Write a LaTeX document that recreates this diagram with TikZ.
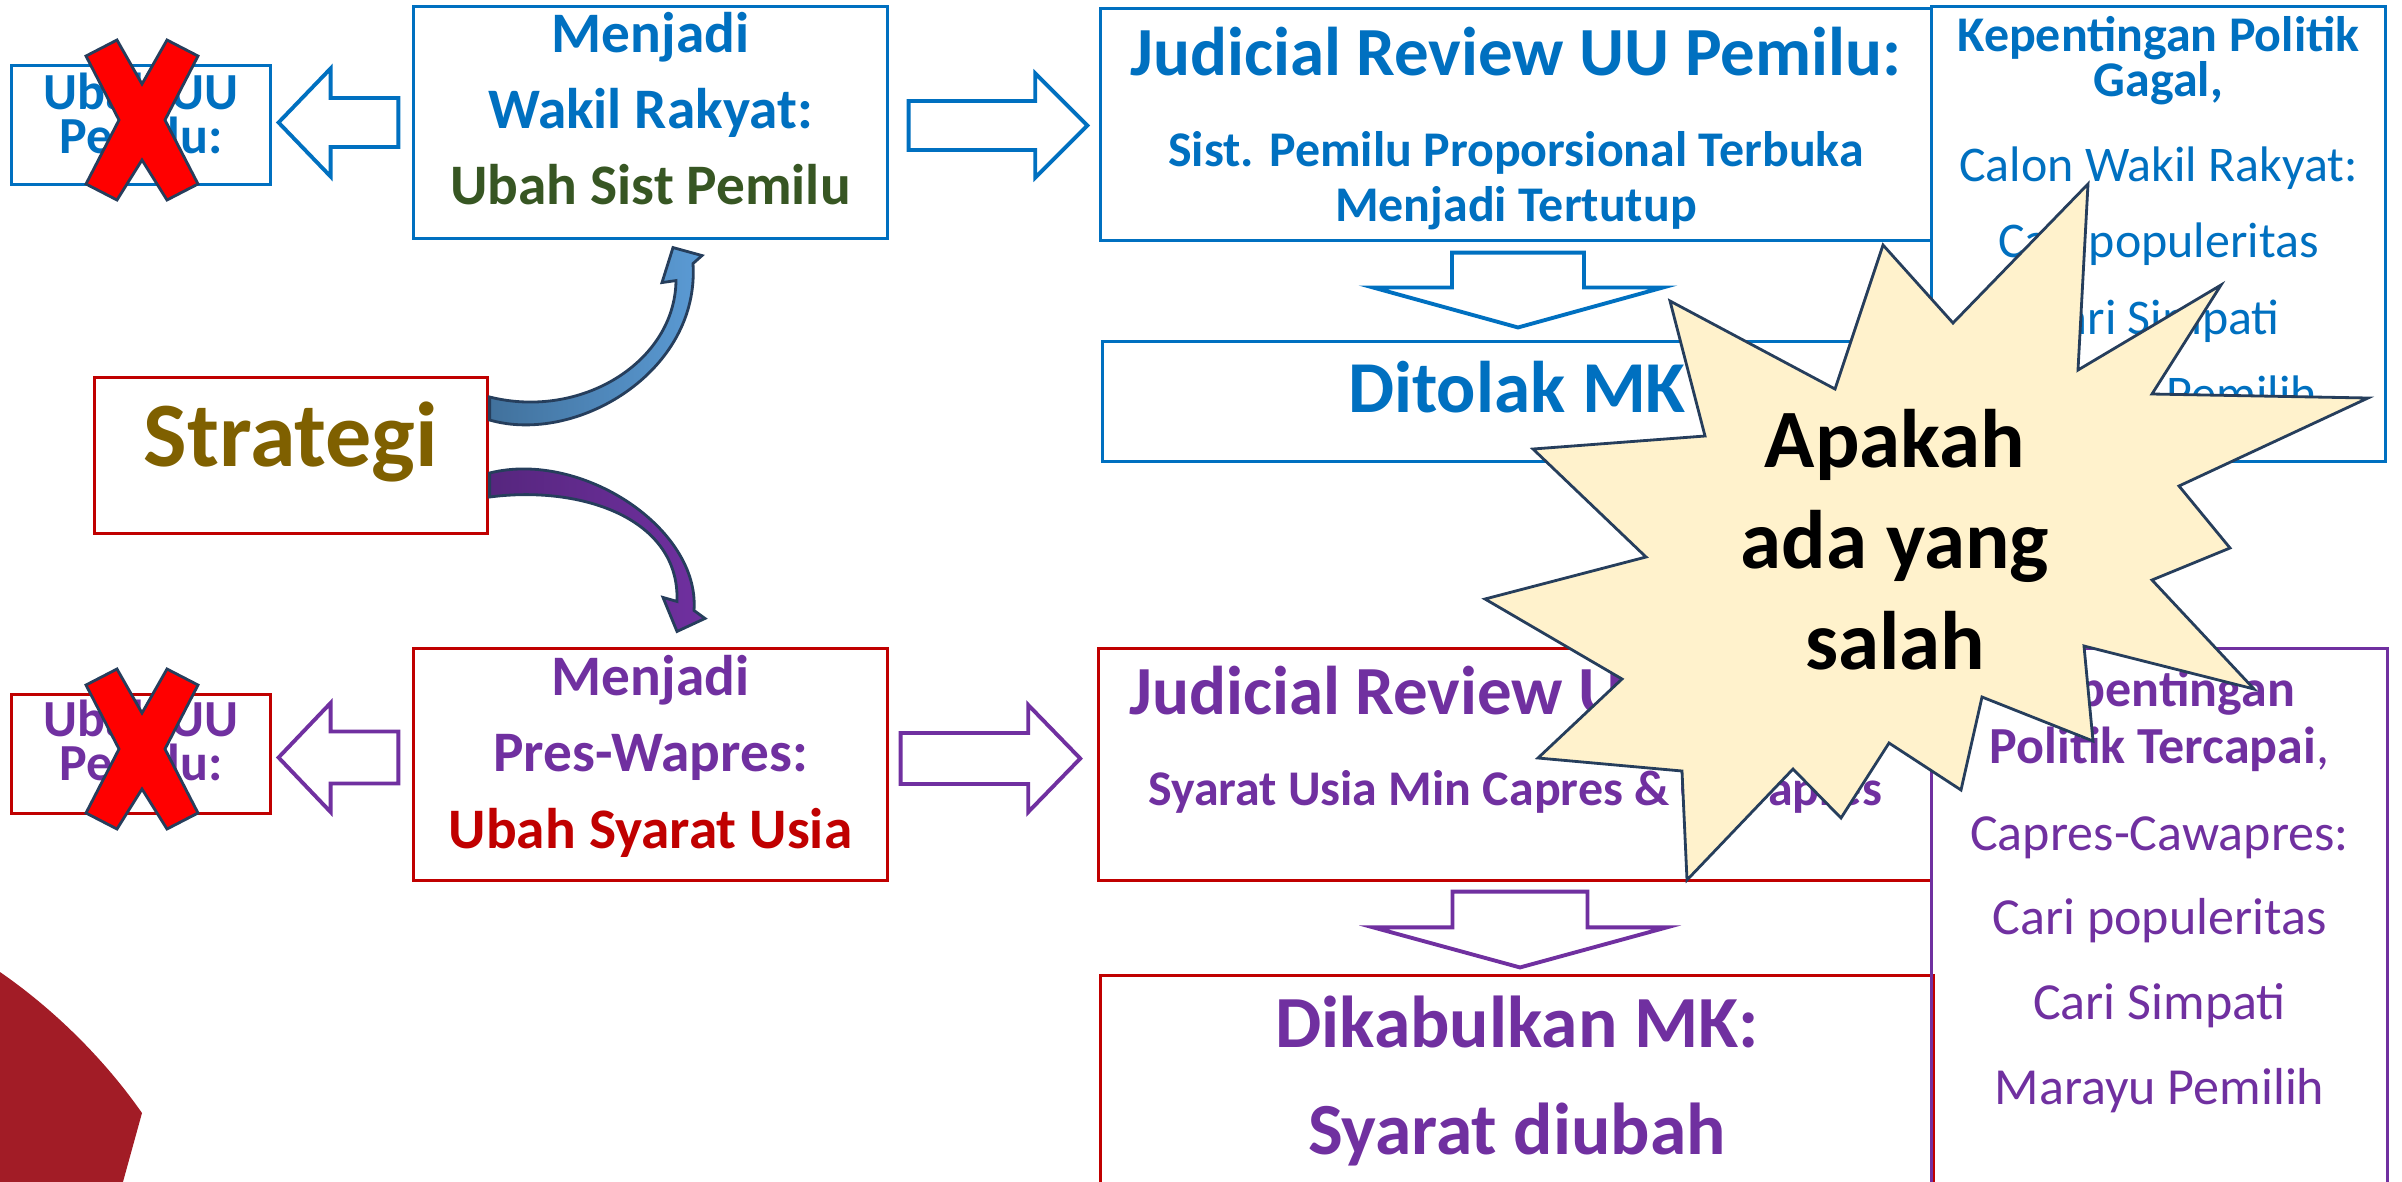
\documentclass[tikz,border=0pt]{standalone}
\usepackage{fontspec}
\setmainfont{Carlito}
\usetikzlibrary{calc,positioning}

\definecolor{kpblue}{HTML}{0070C0}
\definecolor{kppurple}{HTML}{7030A0}
\definecolor{kpred}{HTML}{C00000}
\definecolor{kpgreen}{HTML}{375623}
\definecolor{kpgold}{HTML}{7F6000}
\definecolor{starfill}{HTML}{FFF2CC}
\definecolor{edgedark}{HTML}{263E5C}
\definecolor{arcred}{HTML}{A21C26}
\definecolor{bandblue}{HTML}{5B9BD5}
\definecolor{bandblue2}{HTML}{41719C}
\definecolor{bandpurple2}{HTML}{56267E}

\newcommand{\fsz}[2]{\fontsize{#1}{#2}\selectfont}
% hollow block arrow: style, from, tip, shaft half width, head half width, head length
\newcommand{\hollowarrow}[6]{%
  \coordinate (hb) at ($(#3)!#6!(#2)$);
  \draw[#1] ($(#2)!#4!90:(#3)$) -- ($(hb)!#4!90:(#3)$) -- ($(hb)!#5!90:(#3)$) -- (#3)
    -- ($(hb)!#5!-90:(#3)$) -- ($(hb)!#4!-90:(#3)$) -- ($(#2)!#4!-90:(#3)$) -- cycle;}

\tikzset{
  box/.style={draw, line width=0.85pt, inner sep=0pt, align=center},
  txt/.style={inner sep=0pt, align=center},
  hollow/.style={draw, fill=white, line width=1.1pt},
  crossmark/.style={fill=red, draw=edgedark, line width=0.8pt},
  burst/.style={fill=starfill, draw=edgedark, line width=0.8pt},
}

\begin{document}
\begin{tikzpicture}[x=0.01cm, y=-0.01cm]
  \useasboundingbox (0,0) rectangle (2402,1181);
  \clip (0,0) rectangle (2402,1181);

  % corner decoration
  \fill[arcred] (0,972) .. controls (55,1010) and (105,1060) .. (142,1113) -- (118,1200) -- (0,1200) -- cycle;

  % boxes
  \node[box, draw=kpblue, minimum width=2.58cm, minimum height=1.18cm] (ubahA) at (141,125) {};
  \node[box, draw=kpred, minimum width=2.58cm, minimum height=1.18cm] (ubahB) at (141,754) {};
  \node[box, draw=kpblue, minimum width=4.73cm, minimum height=2.31cm] (wakil) at (650.5,122.5) {};
  \node[box, draw=kpred, minimum width=4.73cm, minimum height=2.31cm] (pres) at (650.5,764.5) {};
  \node[box, draw=kpred, minimum width=3.92cm, minimum height=1.55cm, text=kpgold,
        font=\bfseries\fsz{26.2}{30}, text height=18pt, text depth=11.5pt] (strategi) at (291,455.5) {Strategi};
  \node[box, draw=kpblue, minimum width=8.30cm, minimum height=2.31cm] (jrA) at (1516,124.5) {};
  \node[box, draw=kpblue, minimum width=8.28cm, minimum height=1.19cm, text=kpblue,
        font=\bfseries\fsz{20.8}{24}, text height=14pt, text depth=7.5pt] (ditolak) at (1517,401.5) {Ditolak MK};
  \node[box, draw=kpblue, minimum width=4.53cm, minimum height=4.54cm] (gagal) at (2158.5,234) {};
  \node[box, draw=kpred, minimum width=8.32cm, minimum height=2.31cm] (jrB) at (1515,764.5) {};
  \node[box, draw=kpred, minimum width=8.32cm, minimum height=2.24cm] (dikabul) at (1517,1088) {};
  \node[box, draw=kppurple, minimum width=4.55cm, minimum height=5.51cm] (tercapai) at (2159.5,924.5) {};

  % box texts
  \node[txt, below=0.08cm of ubahA.north, text=kpblue, font=\bfseries\fsz{14.8}{12.5}] (ubahAtxt) {Ubah UU\\Pemilu:};
  \node[txt, below=0.06cm of ubahB.north, text=kppurple, font=\bfseries\fsz{14.8}{12.5}] (ubahBtxt) {Ubah UU\\Pemilu:};
  \node[txt, below=0.06cm of wakil.north, text=kpblue, font=\bfseries\fsz{16.3}{21.7}] (wakiltxt)
    {Menjadi\\Wakil Rakyat:\\\textcolor{kpgreen}{Ubah Sist Pemilu}};
  \node[txt, below=0.07cm of pres.north, text=kppurple, font=\bfseries\fsz{16.3}{21.7}] (prestxt)
    {Menjadi\\Pres-Wapres:\\\textcolor{kpred}{Ubah Syarat Usia}};
  \node[txt, below=0.19cm of jrA.north, text=kpblue, font=\bfseries\fsz{14.2}{15.6}] (jrAtxt)
    {{\fsz{19.6}{15.6}Judicial Review UU Pemilu:}\\[10.3pt]Sist. Pemilu Proporsional Terbuka\\Menjadi Tertutup};
  \node[txt, below=0.10cm of gagal.north, text=kpblue, font=\fsz{14.2}{21.7}] (gagaltxt)
    {\textbf{Kepentingan Politik}\\[-8.9pt]\textbf{Gagal,}\\[2.6pt]Calon Wakil Rakyat:\\Cari populeritas\\Cari Simpati\\Marayu Pemilih};
  \node[txt, below=0.18cm of jrB.north, text=kppurple, font=\bfseries\fsz{14.2}{15.1}] (jrBtxt)
    {{\fsz{19.6}{15.1}Judicial Review UU Pemilu:}\\[10.8pt]Syarat Usia Min Capres \& Cawapres};
  \node[txt, below=0.21cm of dikabul.north, text=kppurple, font=\bfseries\fsz{20.9}{30.4}] (dikabultxt)
    {Dikabulkan MK:\\Syarat diubah};
  \node[txt, below=0.22cm of tercapai.north, text=kppurple, font=\fsz{14.8}{24.1}] (tercapaitxt)
    {\textbf{Kepentingan}\\[-8pt]\textbf{Politik Tercapai},\\[0.6pt]Capres-Cawapres:\\Cari populeritas\\Cari Simpati\\Marayu Pemilih};

  % block arrows
  \coordinate (la0) at ($(wakil.west)+(-14,0)$);
  \coordinate (la1) at ($(ubahA.east |- wakil.west)+(7,0)$);
  \hollowarrow{hollow, draw=kpblue}{la0}{la1}{0.245cm}{0.54cm}{0.52cm}
  \coordinate (ra0) at ($(wakil.east)+(20,3)$);
  \coordinate (ra1) at ($(jrA.west |- wakil.east)+(-12,3)$);
  \hollowarrow{hollow, draw=kpblue}{ra0}{ra1}{0.245cm}{0.52cm}{0.52cm}
  \coordinate (lb0) at ($(pres.west)+(-14,-7)$);
  \coordinate (lb1) at ($(ubahB.east |- pres.west)+(7,-7)$);
  \hollowarrow{hollow, draw=kppurple}{lb0}{lb1}{0.26cm}{0.545cm}{0.52cm}
  \coordinate (rb0) at ($(pres.east)+(12,-6)$);
  \coordinate (rb1) at ($(jrB.west |- pres.east)+(-17,-6)$);
  \hollowarrow{hollow, draw=kppurple}{rb0}{rb1}{0.255cm}{0.535cm}{0.52cm}
  \coordinate (da0) at ($(jrA.south)+(2,11)$);
  \coordinate (da1) at ($(ditolak.north -| jrA.south)+(2,-13)$);
  \hollowarrow{hollow, draw=kpblue}{da0}{da1}{0.66cm}{1.45cm}{0.40cm}
  \coordinate (db0) at ($(jrB.south)+(5,10)$);
  \coordinate (db1) at ($(dikabul.north -| jrB.south)+(5,-7)$);
  \hollowarrow{hollow, draw=kppurple}{db0}{db1}{0.675cm}{1.465cm}{0.40cm}

  % curved arrows out of Strategi
  \draw[left color=bandblue2, right color=bandblue, draw=edgedark, line width=0.8pt]
    ($(strategi.east)+(1,-35.5)$) .. controls +(87,25) and +(7,108) .. ($(wakil.south)+(42.5,24)$)
    -- ($(wakil.south)+(51.5,16)$) -- ($(wakil.south)+(22.5,8)$) -- ($(wakil.south)+(11.5,43)$)
    -- ($(wakil.south)+(25.5,41)$) .. controls +(-1,81) and +(92,23) .. ($(strategi.east)+(1,-58.5)$) -- cycle;
  \draw[left color=bandpurple2, right color=kppurple, draw=edgedark, line width=0.8pt]
    ($(strategi.east)+(1,17.5)$) .. controls +(92,-23) and +(6,-82) .. ($(pres.north)+(43.5,-37)$)
    -- ($(pres.north)+(54.5,-29)$) -- ($(pres.north)+(26.5,-16)$) -- ($(pres.north)+(12.5,-50)$)
    -- ($(pres.north)+(26.5,-46)$) .. controls +(3,-83) and +(92,-12) .. ($(strategi.east)+(1,41.5)$) -- cycle;

  % crossed out
  \foreach \b in {ubahA,ubahB}
    \draw[crossmark, shift={($(\b.center)+(1,-5)$)}] (-56,-64) -- (-25,-80) -- (0,-36) -- (25,-80) -- (56,-64)
      -- (23,0) -- (56,64) -- (25,80) -- (0,40) -- (-25,80) -- (-56,64) -- (-23,0) -- cycle;

  % burst
  \draw[burst] (2088,184) -- (2078,370) -- (2221,285) -- (2152,394) -- (2368,398) -- (2179,486) -- (2230,548)
    -- (2152,580) -- (2254,689) -- (2084,646) -- (2093,741) -- (1982,697) -- (1961,790) -- (1889,743)
    -- (1841,818) -- (1793,769) -- (1687,880) -- (1682,771) -- (1538,758) -- (1622,679) -- (1485,599)
    -- (1646,557) -- (1533,449) -- (1705,436) -- (1670,301) -- (1835,389) -- (1883,245) -- (1953,323) -- cycle;
  \node[txt, anchor=north, font=\bfseries\fsz{23.6}{28.7}] (tanya) at (1895,409) {Apakah\\ada yang\\salah};
\end{tikzpicture}
\end{document}
